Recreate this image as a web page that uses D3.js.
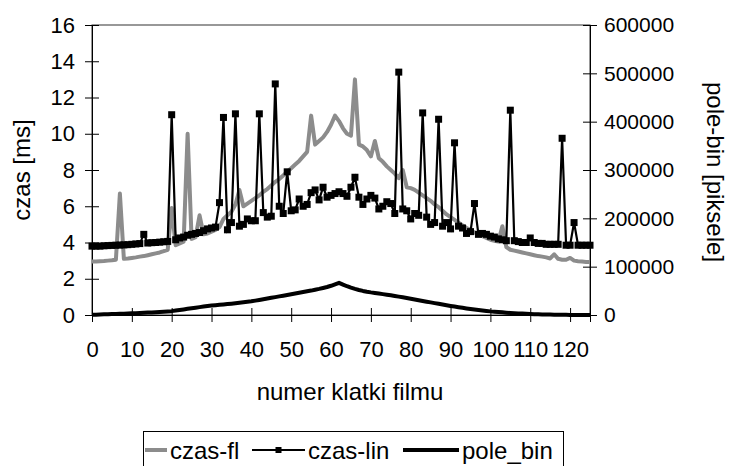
<!DOCTYPE html>
<html>
<head>
<meta charset="utf-8">
<script src="https://cdn.jsdelivr.net/npm/d3@7"></script>
<style>
body { margin: 0; background: #fff; }
text { font-family: "Liberation Sans", Arial, sans-serif; }
</style>
</head>
<body>
<div id="chart"></div>
<script>
// czas-fl [ms], frames 0..125
const czasFl = [
    2.95, 2.95, 2.97, 2.98, 3.0, 3.02, 3.05, 6.7, 3.1, 3.12,
    3.15, 3.18, 3.22, 3.25, 3.3, 3.35, 3.4, 3.45, 3.52, 3.6,
    5.9, 3.85, 3.95, 4.05, 10.0, 4.2, 4.3, 5.5, 4.45, 4.5,
    4.6, 4.7, 4.85, 5.3, 5.5, 5.7, 6.1, 6.9, 6.0, 6.15,
    6.3, 6.45, 6.6, 6.8, 6.95, 7.15, 7.35, 7.5, 7.7, 7.9,
    8.1, 8.3, 8.5, 8.75, 9.0, 11.0, 9.4, 9.6, 9.8, 10.1,
    10.5, 11.0, 10.7, 10.3, 10.0, 9.9, 13.0, 9.4, 9.3, 9.1,
    8.75, 9.6, 8.65, 8.45, 8.2, 8.0, 7.8, 7.55, 8.0, 7.05,
    7.0, 6.9, 6.75, 6.6, 6.45, 6.3, 6.1, 5.95, 5.75, 5.55,
    5.4, 5.25, 5.1, 4.95, 4.8, 4.7, 4.55, 4.45, 4.35, 4.25,
    4.15, 4.1, 4.05, 4.9, 3.75, 3.6, 3.55, 3.5, 3.45, 3.4,
    3.35, 3.3, 3.25, 3.22, 3.18, 3.12, 3.35, 3.1, 3.05, 3.05,
    3.15, 3.0, 2.97, 2.95, 2.93, 2.92
];

// czas-lin [ms]
const czasLin = [
    3.8, 3.8, 3.8, 3.82, 3.83, 3.84, 3.85, 3.86, 3.87, 3.88,
    3.9, 3.92, 3.94, 4.45, 3.97, 3.99, 4.0, 4.02, 4.04, 4.06,
    11.05, 4.15, 4.25, 4.3, 4.4, 4.45, 4.5, 4.55, 4.65, 4.75,
    4.8, 4.85, 6.2, 10.9, 4.7, 5.1, 11.1, 4.9, 5.0, 5.3,
    5.2, 5.2, 11.1, 5.65, 5.4, 5.45, 12.75, 6.0, 5.6, 7.9,
    5.75, 5.8, 6.4, 6.0, 6.1, 6.75, 6.9, 6.35, 7.05, 6.5,
    6.6, 6.7, 6.8, 6.7, 6.55, 7.05, 7.6, 6.5, 6.1, 6.4,
    6.6, 6.45, 5.85, 6.0, 6.25, 6.15, 5.6, 13.4, 5.85, 5.75,
    5.3, 5.6, 5.5, 11.15, 5.4, 5.0, 5.1, 10.8, 4.9, 5.1,
    4.75, 9.5, 4.9, 4.8, 4.5, 4.6, 6.15, 4.45, 4.5, 4.45,
    4.35, 4.3, 4.2, 4.15, 4.1, 11.3, 4.1, 4.05, 4.0, 4.0,
    4.25, 4.0, 3.95, 3.95, 3.9, 3.9, 3.9, 3.9, 9.75, 3.85,
    3.85, 5.1, 3.85, 3.85, 3.85, 3.85
];

// pole_bin [piksele]
const poleBin = [
    400, 700, 1000, 1300, 1600, 1900, 2200, 2500, 2800, 3100,
    3400, 3800, 4200, 4600, 5000, 5400, 5900, 6400, 6900, 7400,
    8000, 9100, 10300, 11500, 12800, 14100, 15200, 16300, 17400, 18500,
    19500, 20300, 21100, 21900, 22700, 23500, 24400, 25300, 26200, 27200,
    28300, 29700, 31100, 32500, 34000, 35500, 37000, 38500, 40000, 41500,
    43000, 44500, 46000, 47500, 49000, 50500, 52200, 54000, 56000, 58000,
    60500, 63500, 66500, 63000, 59500, 56500, 54000, 51800, 49800, 48200,
    46800, 45600, 44400, 43200, 42000, 40800, 39400, 38000, 36600, 35100,
    33600, 32100, 30600, 29100, 27600, 26100, 24600, 23100, 21600, 20100,
    18700, 17400, 16100, 14800, 13600, 12400, 11300, 10300, 9300, 8400,
    7500, 6800, 6100, 5500, 4900, 4300, 3800, 3300, 2900, 2500,
    2100, 1800, 1500, 1200, 1000, 800, 600, 500, 400, 300,
    200, 150, 100, 50, 0, 0
];

const xTicks = [0, 10, 20, 30, 40, 50, 60, 70, 80, 90, 100, 110, 120];
const leftTicks = [0, 2, 4, 6, 8, 10, 12, 14, 16];
const rightTicks = [0, 100000, 200000, 300000, 400000, 500000, 600000];

const svgWidth = 733;
const svgHeight = 466;
const margin = { top: 25, right: 143, bottom: 151, left: 92 };
const chartWidth = svgWidth - margin.left - margin.right;
const chartHeight = svgHeight - margin.top - margin.bottom;

const svg = d3.select("#chart")
    .append("svg")
    .attr("width", svgWidth)
    .attr("height", svgHeight);

const g = svg.append("g")
    .attr("transform", `translate(${margin.left}, ${margin.top})`);

const x = d3.scaleLinear().domain([0, 125]).range([0, chartWidth]);
const yLeft = d3.scaleLinear().domain([0, 16]).range([chartHeight, 0]);
const yRight = d3.scaleLinear().domain([0, 600000]).range([chartHeight, 0]);

// plot area frame
g.append("rect")
    .attr("width", chartWidth)
    .attr("height", chartHeight)
    .attr("fill", "none")
    .attr("stroke", "#333")
    .attr("stroke-width", 1);

function styleAxis(sel) {
    sel.select(".domain").attr("stroke", "#000").attr("stroke-width", 1);
    sel.selectAll(".tick line").attr("stroke", "#000");
    sel.selectAll("text")
        .style("font-family", '"Liberation Sans", Arial, sans-serif')
        .style("font-size", "22px")
        .attr("fill", "#000");
}

const xAxis = g.append("g")
    .attr("transform", `translate(0, ${chartHeight})`)
    .call(d3.axisBottom(x).tickValues(xTicks).tickSize(7).tickPadding(19).tickFormat(d3.format("d")));
styleAxis(xAxis);
xAxis.selectAll(".tick line").attr("y1", -7);

const leftAxis = g.append("g")
    .call(d3.axisLeft(yLeft).tickValues(leftTicks).tickSize(7).tickPadding(10));
styleAxis(leftAxis);
leftAxis.selectAll(".tick line").attr("x1", 7);

const rightAxis = g.append("g")
    .attr("transform", `translate(${chartWidth}, 0)`)
    .call(d3.axisRight(yRight).tickValues(rightTicks).tickSize(7).tickPadding(7).tickFormat(d3.format("d")));
styleAxis(rightAxis);
rightAxis.selectAll(".tick line").attr("x1", -7);
rightAxis.selectAll("text").style("font-size", "21px");

const lineLeft = d3.line()
    .x((d, i) => x(i))
    .y(d => yLeft(d));

const lineRight = d3.line()
    .x((d, i) => x(i))
    .y(d => yRight(d));

g.append("path")
    .datum(czasFl)
    .attr("fill", "none")
    .attr("stroke", "#8c8c8c")
    .attr("stroke-width", 4)
    .attr("stroke-linejoin", "round")
    .attr("d", lineLeft);

g.append("path")
    .datum(czasLin)
    .attr("fill", "none")
    .attr("stroke", "#000")
    .attr("stroke-width", 2.2)
    .attr("d", lineLeft);

g.selectAll("rect.marker")
    .data(czasLin)
    .enter()
    .append("rect")
    .attr("class", "marker")
    .attr("x", (d, i) => x(i) - 3.5)
    .attr("y", d => yLeft(d) - 3.5)
    .attr("width", 7)
    .attr("height", 7)
    .attr("fill", "#000");

g.append("path")
    .datum(poleBin)
    .attr("fill", "none")
    .attr("stroke", "#000")
    .attr("stroke-width", 4)
    .attr("stroke-linejoin", "round")
    .attr("d", lineRight);

// axis titles
svg.append("text")
    .attr("x", 350)
    .attr("y", 400)
    .attr("text-anchor", "middle")
    .style("font-size", "24px")
    .text("numer klatki filmu");

svg.append("text")
    .attr("transform", `translate(30, ${margin.top + chartHeight / 2}) rotate(-90)`)
    .attr("text-anchor", "middle")
    .style("font-size", "24px")
    .text("czas [ms]");

svg.append("text")
    .attr("transform", `translate(707, ${margin.top + chartHeight / 2 + 2}) rotate(90)`)
    .attr("text-anchor", "middle")
    .style("font-size", "24px")
    .text("pole-bin [piksele]");

// legend
const legend = svg.append("g");
legend.append("rect")
    .attr("x", 143.5)
    .attr("y", 431.5)
    .attr("width", 420)
    .attr("height", 44)
    .attr("fill", "#fff")
    .attr("stroke", "#000");

const legendItems = [
    { name: "czas-fl", x0: 145, x1: 167, tx: 170, color: "#8c8c8c", width: 4, marker: false },
    { name: "czas-lin", x0: 252, x1: 305, tx: 308, color: "#000", width: 2, marker: true },
    { name: "pole_bin", x0: 403, x1: 459, tx: 462, color: "#000", width: 4, marker: false }
];

legendItems.forEach(item => {
    legend.append("line")
        .attr("x1", item.x0)
        .attr("x2", item.x1)
        .attr("y1", 450)
        .attr("y2", 450)
        .attr("stroke", item.color)
        .attr("stroke-width", item.width);
    if (item.marker) {
        legend.append("rect")
            .attr("x", (item.x0 + item.x1) / 2 - 3)
            .attr("y", 447)
            .attr("width", 6)
            .attr("height", 6)
            .attr("fill", "#000");
    }
    legend.append("text")
        .attr("x", item.tx)
        .attr("y", 459)
        .style("font-size", "24px")
        .text(item.name);
});
</script>
</body>
</html>
